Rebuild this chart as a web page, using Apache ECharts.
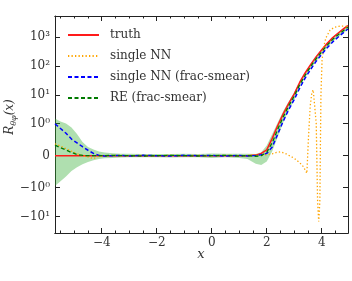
<!DOCTYPE html>
<html>
<head>
<meta charset="utf-8">
<script src="https://cdn.jsdelivr.net/npm/echarts@6/dist/echarts.min.js"></script>
<style>html,body{margin:0;padding:0;background:#fff}#c{width:352px;height:281px}</style>
</head>
<body>
<div id="c"></div>
<script>
// ---- data (raw values, plotted on a symlog scale, linthresh = 1) ----
const xs = [-5.7,-5.5,-5.3,-5.1,-4.9,-4.7,-4.5,-4.3,-4.1,-3.9,-3.6,-3.3,-3.0,-2.5,-2.0,-1.5,-1.0,-0.5,0,0.5,1.0,1.3,1.6,1.8,2.0,2.2,2.4,2.6,2.8,3.0,3.2,3.4,3.6,3.8,4.0,4.2,4.4,4.6,4.8,4.95];
const truth = [0,0,0,0,0,0,0,0,0,0,0,0,0,0,0,0,0,0,0,0,0,0,0.018,0.072,0.18,0.54,0.945,2.18,5.1,10.9,27.5,58.7,115,213,371,615,975,1410,1990,2565];
const nnSmear = [1.0,0.85,0.7,0.52,0.4,0.28,0.17,0.07,0.01,-0.01,0.0,0.01,-0.01,0.01,0,-0.01,0.01,0,0.01,-0.01,0.01,-0.01,0.01,0.027,0.072,0.27,0.675,1.23,3.08,6.9,17.3,38.8,77.4,148,256,436,690,1021,1476,1945];
const reSmear = [0.33,0.25,0.18,0.1,0.04,0.01,0,0,0,0,0.01,0,0,-0.01,0,0.01,0,-0.01,0,0.01,-0.01,0,-0.018,0.0,0.108,0.405,0.828,1.73,4.16,9.1,22.9,48.9,97.5,182,316,536,849,1227,1734,2234];
const reLow = [-0.95,-0.8,-0.65,-0.48,-0.36,-0.27,-0.2,-0.14,-0.1,-0.08,-0.07,-0.06,-0.05,-0.05,-0.05,-0.06,-0.05,-0.05,-0.07,-0.05,-0.07,-0.1,-0.25,-0.29,-0.18,0.135,0.585,1.09,2.94,6.59,19.0,40.6,81.1,151,262,446,706,1021,1442,1858];
const reHigh = [1.5,1.2,1.02,0.88,0.68,0.43,0.27,0.19,0.13,0.1,0.08,0.06,0.06,0.05,0.05,0.05,0.06,0.05,0.07,0.06,0.06,0.06,0.054,0.108,0.315,0.675,1.09,2.75,5.87,12.3,27.5,58.7,117,218,379,644,1021,1476,2084,2685];

const nnX = [-5.7,-5.5,-5.3,-5.1,-4.9,-4.7,-4.5,-4.3,-4.1,-3.9,-3.5,-3.0,-2.5,-2.0,-1.5,-1.0,-0.5,0,0.5,1.0,1.5,1.8,2.0,2.2,2.35,2.5,2.7,3.0,3.2,3.33,3.46,3.52,3.58,3.64,3.69,3.74,3.80,3.85,3.89,3.93,3.97,4.01,4.06,4.15,4.3,4.45,4.6,4.8,4.95];
const nnY = [0.37,0.3,0.22,0.14,0.06,0.0,-0.04,-0.09,-0.02,0.0,0.01,0.0,0.01,0,0.01,0,0.01,0,0.01,0,0.01,0.02,0.03,0.06,0.1,0.12,0.06,-0.08,-0.22,-0.34,-0.55,0.6,4,12,15,13,1,-3,-15,-3,10,150,420,950,1750,2200,2400,2450,2350];

const xMajor = [-4,-2,0,2,4];
const xMinor = [-5.5,-5,-4.5,-3.5,-3,-2.5,-1.5,-1,-0.5,0.5,1,1.5,2.5,3,3.5,4.5];
const yTickValues = [-10,-1,0,1,10,100,1000];
const yTickLabels = ['\u221210\u00b9','\u221210\u2070','0','10\u2070','10\u00b9','10\u00b2','10\u00b3'];
const seriesNames = ['truth','single NN','single NN (frac-smear)','RE (frac-smear)'];

// ---- symlog transform ----
const K = 1/(1-1/10);
function T(v){ const a=Math.abs(v); return a<=1 ? v*K : Math.sign(v)*(K+Math.log10(a)); }
const pairs = (x,y)=>x.map((xv,i)=>[xv, T(y[i])]);

const FONT = 'DejaVu Serif';
const TXT = '#333';
const yTickT = yTickValues.map(T);

const chart = echarts.init(document.getElementById('c'), null, {renderer:'canvas'});
const XMIN=-5.7, XMAX=4.955, YMIN=-2.684, YMAX=4.85;

function xAx(pos, ticks, len, labels){
  return {type:'value', min:XMIN, max:XMAX, position:pos, gridIndex:0,
    axisLine:{show:true, onZero:false, lineStyle:{color:'#222',width:1}},
    axisTick:{show:true, inside:true, length:len, customValues:ticks, lineStyle:{color:'#222',width:1}},
    axisLabel: labels ? {show:true, customValues:ticks, margin:4, fontFamily:FONT, fontSize:12, color:TXT,
       formatter:v=> v<0 ? '\u2212'+Math.abs(v) : String(v)} : {show:false},
    splitLine:{show:false}};
}
function yAx(pos, labels){
  return {type:'value', min:YMIN, max:YMAX, position:pos,
    axisLine:{show:true, onZero:false, lineStyle:{color:'#222',width:1}},
    axisTick:{show:true, inside:true, length:5, customValues:yTickT, lineStyle:{color:'#222',width:1}},
    axisLabel: labels ? {show:true, customValues:yTickT, margin:5, fontFamily:FONT, fontSize:12, color:TXT,
      formatter:v=>{ let idx=0,best=1e9; yTickT.forEach((t,i)=>{ if(Math.abs(t-v)<best){best=Math.abs(t-v);idx=i;} }); return yTickLabels[idx]; }} : {show:false},
    splitLine:{show:false}};
}

// band polygon built from the library's coordinate system
const bandData = xs.map((x,i)=>[x, T(reLow[i]), T(reHigh[i])]);

const option = {
  animation:false,
  backgroundColor:'#fff',
  grid:{left:55, right:4, top:16, bottom:48, containLabel:false},
  xAxis:[ xAx('bottom', xMajor, 5, true), xAx('bottom', xMinor, 2.5, false), xAx('top', xMajor, 5, false), xAx('top', xMinor, 2.5, false) ],
  yAxis:[ yAx('left', true), yAx('right', false) ],
  legend:{show:true, data:seriesNames, orient:'vertical', left:62, top:24, itemWidth:31, itemHeight:14, itemGap:9,
    itemStyle:{opacity:0},
    textStyle:{fontFamily:FONT, fontSize:12, color:TXT, padding:[0,0,0,6]}},
  series:[
    {type:'custom', name:'band', data:bandData, silent:true, z:1, clip:true,
     renderItem:(params, api)=>{
       if(params.dataIndex!==0) return null;
       const upper = bandData.map(d=>api.coord([d[0], d[2]]));
       const lower = bandData.map(d=>api.coord([d[0], d[1]])).reverse();
       return {type:'polygon', shape:{points:upper.concat(lower), smooth:0}, style:{fill:'rgba(44,170,44,0.38)', stroke:null}};
     }},
    {type:'line', name:'truth', data:pairs(xs,truth), showSymbol:false, symbol:'none', color:'#ff1a1a',
     lineStyle:{color:'#ff1a1a', width:1.5}, z:3},
    {type:'line', name:'single NN', data:pairs(nnX,nnY), showSymbol:false, symbol:'none', color:'#ffa500',
     lineStyle:{color:'#ffa500', width:1.3, type:[1.3,2.2]}, z:4},
    {type:'line', name:'single NN (frac-smear)', data:pairs(xs,nnSmear), showSymbol:false, symbol:'none', color:'#0000ff',
     lineStyle:{color:'#0000ff', width:1.5, type:[4,2.5]}, z:5},
    {type:'line', name:'RE (frac-smear)', data:pairs(xs,reSmear), showSymbol:false, symbol:'none', color:'#007a00',
     lineStyle:{color:'#007a00', width:1.3, type:[4,2.5]}, z:6}
  ],
  graphic:[
    {type:'text', x:201, y:255, style:{text:'x', fontFamily:FONT, fontStyle:'italic', fontSize:13, fill:TXT, align:'center', verticalAlign:'middle'}},
    {type:'text', x:10, y:117, rotation:Math.PI/2, style:{text:'{i|R}{s|\u03b8\u03c6}{i|(x)}', align:'center', verticalAlign:'middle',
      rich:{ i:{fontFamily:FONT, fontStyle:'italic', fontSize:12, fill:TXT, color:TXT},
             s:{fontFamily:FONT, fontStyle:'italic', fontSize:8, fill:TXT, color:TXT, padding:[7,0,0,0]} }}}
  ]
};
chart.setOption(option);
</script>
</body>
</html>
